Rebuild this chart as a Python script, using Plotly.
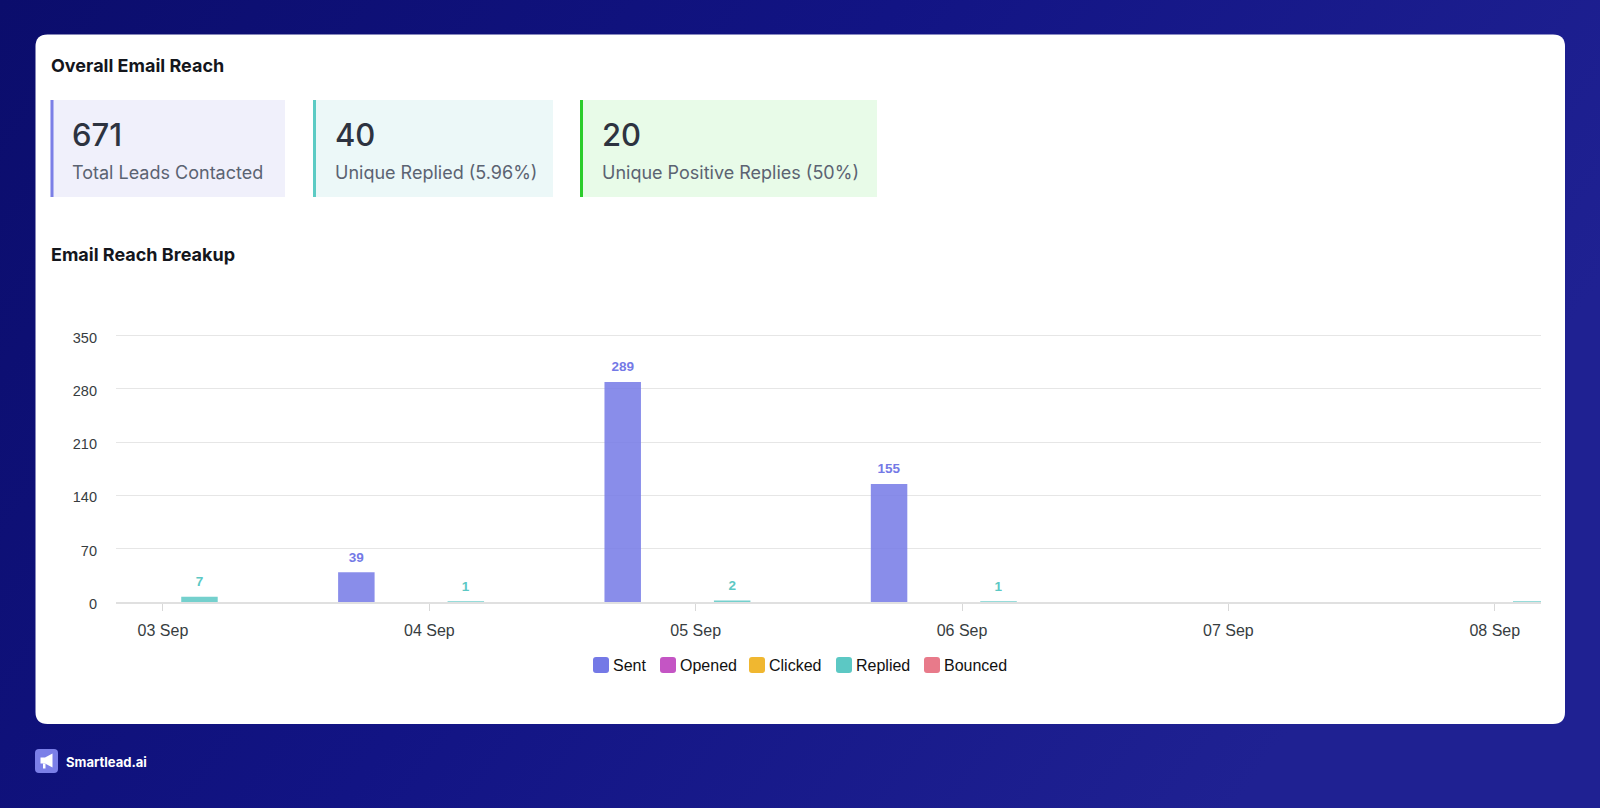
import base64
import plotly.graph_objects as go

W, H = 1600, 808

# ---------------- data ----------------
dates = ["2023-09-03", "2023-09-04", "2023-09-05", "2023-09-06", "2023-09-07", "2023-09-08"]
series_names = ["Sent", "Opened", "Clicked", "Replied", "Bounced"]
sent = [0, 39, 289, 155, 0, 0]
opened = [0, 0, 0, 0, 0, 0]
clicked = [0, 0, 0, 0, 0, 0]
replied = [7, 1, 2, 1, 0, 1]
bounced = [0, 0, 0, 0, 0, 0]
sent_labels = ["", "39", "289", "155", "", ""]
replied_labels = ["7", "1", "2", "1", "", ""]
y_ticks = [0, 70, 140, 210, 280, 350]

stat_values = ["671", "40", "20"]
stat_labels = ["Total Leads Contacted", "Unique Replied (5.96%)", "Unique Positive Replies (50%)"]

# ---------------- styles ----------------
series_colors = ["#7479e6", "#c455c4", "#f0b730", "#5cc8c4", "#e87a8a"]
series_fill = ["rgba(116,121,230,0.85)", "rgba(196,85,196,0.85)", "rgba(240,183,48,0.85)",
               "rgba(92,200,196,0.85)", "rgba(232,122,138,0.85)"]
CHART_FONT = "Liberation Sans, Arial, Helvetica, sans-serif"
UI_FONT = "Inter, Lato, sans-serif"
LABEL_PAD = 6  # data units gap between bar top and value label
legend_marker_x = [593, 660, 749, 836, 924]  # legend entry left edges (px)


def px(x):
    return x / W


def py(y):
    return 1 - y / H


def rounded_rect(x0, y0, x1, y1, r):
    rx, ry = r / W, r / H
    X0, X1 = px(x0), px(x1)
    Y0, Y1 = py(y0), py(y1)  # Y0 top, Y1 bottom in paper units
    return (f"M {X0+rx},{Y0} L {X1-rx},{Y0} Q {X1},{Y0} {X1},{Y0-ry} "
            f"L {X1},{Y1+ry} Q {X1},{Y1} {X1-rx},{Y1} "
            f"L {X0+rx},{Y1} Q {X0},{Y1} {X0},{Y1+ry} "
            f"L {X0},{Y0-ry} Q {X0},{Y0} {X0+rx},{Y0} Z")


fig = go.Figure()

values = [sent, opened, clicked, replied, bounced]
for name, vals, fill in zip(series_names, values, series_fill):
    fig.add_trace(go.Bar(
        x=dates, y=vals, name=name, offsetgroup=name, alignmentgroup="g",
        marker=dict(color=fill, line=dict(width=0)),
        hoverinfo="skip", showlegend=False,
    ))

# value labels (transparent bars stacked on top of each real bar, same slot)
for name, vals, labels, color in [("Sent", sent, sent_labels, series_colors[0]),
                                  ("Replied", replied, replied_labels, series_colors[3])]:
    fig.add_trace(go.Bar(
        x=dates, y=[LABEL_PAD] * len(vals), base=vals, text=labels,
        textposition="outside", cliponaxis=False, constraintext="none",
        textfont=dict(family=CHART_FONT, size=13.5, color=color, weight=700),
        offsetgroup=name, alignmentgroup="g", showlegend=False,
        marker=dict(color="rgba(0,0,0,0)", line=dict(width=0)),
        hoverinfo="skip",
    ))

# ---------------- background ----------------
svg = ('<svg xmlns="http://www.w3.org/2000/svg" width="1600" height="808" viewBox="0 0 1600 808" '
       'preserveAspectRatio="none"><defs><linearGradient id="g" x1="0" y1="0" x2="1" y2="0.35">'
       '<stop offset="0" stop-color="#0b0d6c"/><stop offset="0.5" stop-color="#121484"/>'
       '<stop offset="1" stop-color="#1f2192"/></linearGradient></defs>'
       '<rect width="1600" height="808" fill="url(#g)"/></svg>')
svg_uri = "data:image/svg+xml;base64," + base64.b64encode(svg.encode()).decode()

shapes = []
# white card
shapes.append(dict(type="path", xref="paper", yref="paper", layer="below",
                   path=rounded_rect(35.5, 34.5, 1565, 724, 12),
                   fillcolor="#ffffff", line=dict(width=0)))
# stat boxes
box_specs = [(50.5, 285, "#f0f0fb", "#7b7fe6"),
             (313, 553, "#ecf8f8", "#5ccbc4"),
             (580, 877, "#e8fbe8", "#2ccc2c")]
for (bx0, bx1, bg, bc) in box_specs:
    shapes.append(dict(type="rect", xref="paper", yref="paper", layer="below",
                       x0=px(bx0), x1=px(bx1), y0=py(197), y1=py(100),
                       fillcolor=bg, line=dict(width=0)))
    shapes.append(dict(type="rect", xref="paper", yref="paper", layer="below",
                       x0=px(bx0), x1=px(bx0 + 3), y0=py(197), y1=py(100),
                       fillcolor=bc, line=dict(width=0)))
# logo icon
shapes.append(dict(type="path", xref="paper", yref="paper", layer="above",
                   path=rounded_rect(35, 749, 58, 773, 4),
                   fillcolor="#7b7fe8", line=dict(width=0)))
mega = [(40.5, 757.5), (45, 757.5), (52.5, 753.5), (52.5, 767.5), (45, 763.5), (40.5, 763.5)]
shapes.append(dict(type="path", xref="paper", yref="paper", layer="above",
                   path="M " + " L ".join(f"{px(a)},{py(b)}" for a, b in mega) + " Z",
                   fillcolor="#ffffff", line=dict(width=0)))
shapes.append(dict(type="rect", xref="paper", yref="paper", layer="above",
                   x0=px(43), x1=px(45.5), y0=py(768.5), y1=py(763.5),
                   fillcolor="#ffffff", line=dict(width=0)))

annotations = []


def add_text(text, x, y, size, color, weight=400, family=UI_FONT):
    annotations.append(dict(text=text, x=px(x), y=py(y), xref="paper", yref="paper",
                            xanchor="left", yanchor="middle", showarrow=False,
                            font=dict(family=family, size=size, color=color, weight=weight)))


# legend (rounded swatches like the original)
for lx, name, color in zip(legend_marker_x, series_names, series_colors):
    shapes.append(dict(type="path", xref="paper", yref="paper", layer="above",
                       path=rounded_rect(lx, 657, lx + 16, 673, 3),
                       fillcolor=color, line=dict(width=0)))
    add_text(name, lx + 18, 665.5, 16, "#111111", 400, CHART_FONT)

add_text("Overall Email Reach", 49, 66, 18, "#14161c", 700)
for (bx0, _, _, _), v, lab in zip(box_specs, stat_values, stat_labels):
    add_text(v, bx0 + 19.5, 134, 31, "#2d3340", 500)
    add_text(lab, bx0 + 19.5, 173, 18, "#5b6372", 400)
add_text("Email Reach Breakup", 49, 255, 18, "#14161c", 700)
add_text("Smartlead.ai", 64, 761.5, 13, "#ffffff", 700)

fig.update_layout(
    width=W, height=H, autosize=False,
    margin=dict(l=0, r=0, t=0, b=0, pad=0, autoexpand=False),
    paper_bgcolor="#13158a",
    plot_bgcolor="rgba(0,0,0,0)",
    barmode="group", bargap=0.315, bargroupgap=0,
    hovermode=False,
    showlegend=False,
    images=[dict(source=svg_uri, xref="paper", yref="paper", x=0, y=1, sizex=1, sizey=1,
                 sizing="stretch", layer="below", xanchor="left", yanchor="top")],
    shapes=shapes,
    annotations=annotations,
    xaxis=dict(type="date", domain=[px(116), px(1541)], automargin=False,
               range=["2023-09-02 19:46", "2023-09-08 04:10"],
               tick0="2023-09-03", dtick=86400000, tickformat="%d %b",
               ticks="outside", ticklen=7, tickcolor="#d8d8d8", tickwidth=1,
               ticklabelstandoff=6,
               showgrid=False, showline=True, linecolor="#e0e0e0", linewidth=1.5,
               zeroline=False, fixedrange=True,
               tickfont=dict(family=CHART_FONT, size=16, color="#373d3f")),
    yaxis=dict(domain=[py(602), py(334.0)], range=[0, 352], tickvals=y_ticks,
               automargin=False,
               showgrid=True, gridcolor="#e6e6e6", gridwidth=1,
               zeroline=False, showline=False, ticks="", fixedrange=True,
               ticklabelstandoff=18, ticklabelshift=2,
               tickfont=dict(family=CHART_FONT, size=14.5, color="#373d3f")),
)

fig.write_html("out.html", include_plotlyjs=True, config={"displayModeBar": False},
               post_script="document.body.style.margin='0';document.body.style.overflow='hidden';")
